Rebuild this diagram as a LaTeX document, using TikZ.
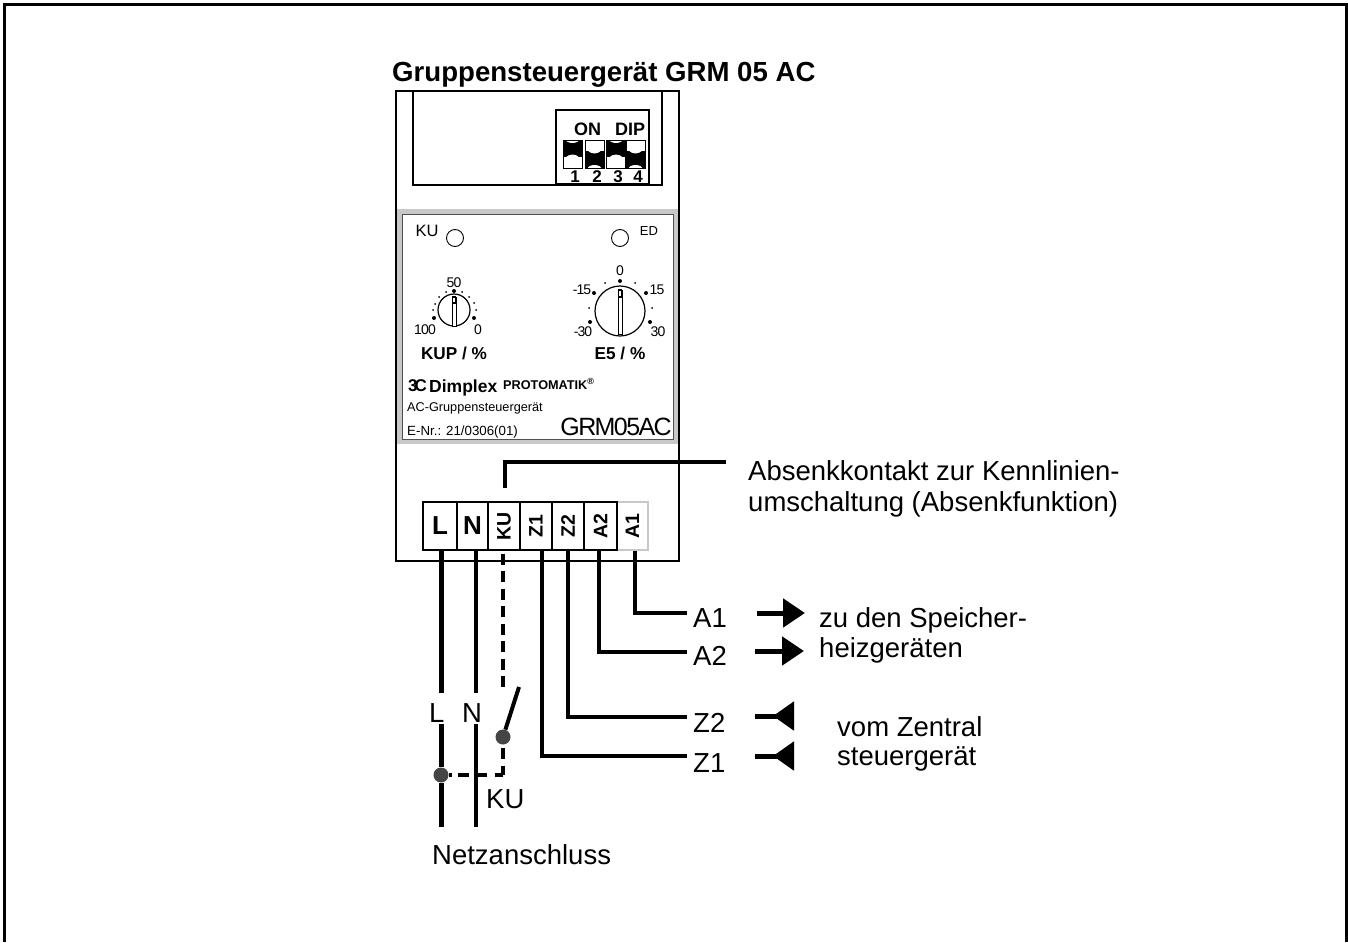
\documentclass[tikz,border=0pt]{standalone}
\usepackage{fontspec}
\setmainfont{Liberation Sans}
\newfontfamily\tightfont[LetterSpace=-6.3]{Liberation Sans}
\usetikzlibrary{arrows.meta}
\definecolor{panelgray}{HTML}{C8C8C8}
\definecolor{paneledge}{HTML}{505050}
\definecolor{dotgray}{HTML}{454545}
\newcommand{\fs}[1]{\fontsize{#1}{#1}\selectfont}
\tikzset{
    lbl/.style = {inner sep=0pt, anchor=base west, font=\fs{27.5}},
    small/.style = {inner sep=0pt, font=\tightfont\fs{14}},
    wire/.style = {line width=4pt},
    mainwire/.style = {line width=5pt},
    dashwire/.style = {line width=3.4pt},
    body/.style = {line width=2.8pt},
    terminal/.style = {draw, line width=1.2pt, fill=white, inner sep=0pt,
        minimum height=48pt, minimum width=#1, font=\bfseries\fs{19.5}},
    knobdot/.style = {circle, fill, inner sep=0pt, minimum size=#1},
    joint/.style = {circle, fill=dotgray, inner sep=0pt, minimum size=15pt},
    outarrow/.style = {line width=5pt, -{Triangle[length=22pt,width=28pt]}},
    inarrow/.style = {line width=5pt, -{Triangle[reversed,length=21pt,width=28pt]}}
}
\begin{document}
\begin{tikzpicture}[x=1pt, y=-1pt]
    \useasboundingbox (0,0) rectangle (1348,942);
    \draw[line width=3pt] (4,942) -- (4,5) -- (1346,5) -- (1346,942);

    \node[inner sep=0pt, anchor=base west, font=\bfseries\fs{27.6}] (title) at (392,81.5) {Gruppensteuerger\"at GRM 05 AC};

    % housing
    \draw[body] (396,91) rectangle (679,561);
    \draw[line width=2.2pt] (413,91) -- (413,185) -- (662,185) -- (662,91);
    \draw[line width=2.6pt] (556,185) -- (556,110) -- (649,110) -- (649,185);
    \draw[line width=3pt] (556,184) -- (649,184);

    % dip switches
    \foreach \x/\s in {572.5/1,594.5/-1,616/1,635.5/-1} {
        \begin{scope}[shift={(\x,154)}, yscale=\s]
            \fill[white] (-9.5,-14) rectangle (9.5,14);
            \fill (-10,-14) rectangle (10,3);
            \fill[white] (0,9.5) circle (9);
            \fill[white] (0,-15) ellipse (7 and 4);
            \draw[line width=.8pt] (-9.5,-14) rectangle (9.5,14);
        \end{scope}
    }
    \node[inner sep=0pt, font=\bfseries\fs{18}] (on) at (587.5,129) {ON};
    \node[inner sep=0pt, font=\bfseries\fs{18}] (dip) at (630,129) {DIP};
    \foreach \x/\t in {575/1,597/2,618/3,638/4} {
        \node[inner sep=0pt, font=\bfseries\fs{17}] at (\x,176.5) {\t};
    }

    % front panel
    \draw[fill=panelgray, draw=panelgray] (397,209) rectangle (677,443);
    \draw[fill=white, draw=paneledge, line width=1pt] (402,214) rectangle (673,439);
    \draw[body] (396,200) -- (396,450);
    \draw[body] (679,200) -- (679,450);

    \node[inner sep=0pt, font=\fs{16.5}] (ku) at (427,231) {KU};
    \node[inner sep=0pt, font=\fs{13}] (ed) at (649,231) {ED};
    \draw[line width=.9pt] (455,238) circle (8.5);
    \draw[line width=.9pt] (620,238) circle (8.5);

    % left knob
    \draw[line width=1.2pt] (454,310) circle (16);
    \draw[line width=.8pt, fill=white] (452,297) rectangle (456,326);
    \draw[line width=1.2pt] (452.2,297) rectangle (455.8,303);
    \foreach \x/\y in {454/291,434/318,474/318} {
        \node[knobdot=4pt] at (\x,\y) {};
    }
    \foreach \x/\y in {439/297,446/292,462/292,469/297,435/304,433/310,474/303,476/310} {
        \node[knobdot=2pt] at (\x,\y) {};
    }
    \node[small] at (454,283) {50};
    \node[small] at (425,330) {100};
    \node[small] at (478,330) {0};
    \node[inner sep=0pt, font=\bfseries\fs{17.2}] (kup) at (454,353) {KUP / \%};

    % right knob
    \draw[line width=1.2pt] (620,311) circle (25);
    \draw[line width=.8pt, fill=white] (618,290) rectangle (622,334);
    \draw[line width=1.2pt] (618.2,290) rectangle (621.8,297);
    \foreach \x/\y in {620/281,594/293,646/293,590/322,650/322} {
        \node[knobdot=4pt] at (\x,\y) {};
    }
    \foreach \x/\y in {605/283,635/283,589/308,652/308} {
        \node[knobdot=2pt] at (\x,\y) {};
    }
    \node[small] at (620,271) {0};
    \node[small] at (582,290) {-15};
    \node[small] at (657,290) {15};
    \node[small] at (583,332) {-30};
    \node[small] at (658,332) {30};
    \node[inner sep=0pt, font=\bfseries\fs{17.2}] (e5) at (620,353) {E5 / \%};

    % logo and type plate
    \node[inner sep=0pt, anchor=base west, font=\bfseries\fs{17}] (logo) at (408,391) {3\kern-3pt C};
    \node[inner sep=0pt, anchor=base west, font=\bfseries\fs{17.5}] (dimplex) at (429,392) {Dimplex};
    \node[inner sep=0pt, anchor=base west, font=\bfseries\fs{12.7}] (proto) at (503,389) {PROTOMATIK\textsuperscript{\textregistered}};
    \node[inner sep=0pt, anchor=base west, font=\fs{12.7}] (plate) at (407,411) {AC-Gruppensteuerger\"at};
    \node[inner sep=0pt, anchor=base west, font=\fs{13.3}] (enr) at (407,435) {E-Nr.: 21/0306(01)};
    \node[inner sep=0pt, anchor=base east, font=\tightfont\fs{25}] (grm) at (672,435) {GRM05AC};

    % terminals
    \node[terminal=31pt, draw=panelgray] (tA1) at (632.5,526) {\rotatebox{90}{A1}};
    \node[terminal=34pt] (tL) at (440,526) {\fs{26}L};
    \node[terminal=31pt] (tN) at (472.5,526) {\fs{26}N};
    \node[terminal=32pt] (tKU) at (504,526) {\rotatebox{90}{KU}};
    \node[terminal=32pt] (tZ1) at (536,526) {\rotatebox{90}{Z1}};
    \node[terminal=32pt] (tZ2) at (568,526) {\rotatebox{90}{Z2}};
    \node[terminal=33pt] (tA2) at (600.5,526) {\rotatebox{90}{A2}};

    % callout
    \node[lbl] (absenk) at (748,480) {Absenkkontakt zur Kennlinien-};
    \node[lbl] (umschalt) at (748,511) {umschaltung (Absenkfunktion)};
    \coordinate (cKU) at (505,488);
    \coordinate (cEnd) at (726,462);
    \draw[wire] (cKU) |- (cEnd);

    % mains side
    \node[lbl] (lL) at (429,722) {L};
    \node[lbl] (lN) at (462,722) {N};
    \node[lbl] (lKU) at (486,808) {KU};
    \node[lbl] (netz) at (432,864) {Netzanschluss};
    \node[joint] (dotL) at (441,775) {};
    \node[joint] (dotS) at (503,737) {};
    \coordinate (gL) at (441,693);
    \coordinate (hL) at (441,724);
    \coordinate (gN) at (476,693);
    \coordinate (hN) at (476,724);
    \coordinate (eL) at (441,827);
    \coordinate (eN) at (476,827);
    \coordinate (eArm) at (519,687);
    \coordinate (eDash) at (503,687);
    \coordinate (eCorner) at (503,775);
    \draw[mainwire] ([xshift=1]tL.south) -- (gL);
    \draw[mainwire] (hL) -- (dotL) -- (eL);
    \draw[wire] ([xshift=3.5]tN.south) -- (gN);
    \draw[wire] (hN) -- (eN);
    \draw[dashwire, dash pattern=on 11pt off 6.5pt, dash phase=14.5pt] ([xshift=-1]tKU.south) -- (eDash);
    \draw[dashwire, dash pattern=on 0pt off 3pt on 11pt off 7pt on 11pt] (dotS) -- (eCorner);
    \draw[dashwire, dash pattern=on 8pt off 8pt on 11pt off 7pt on 11pt off 6pt on 4pt] (eCorner) -- (dotL);
    \draw[wire] (dotS) -- (eArm);

    % control side
    \coordinate (eA1) at (687,613);
    \coordinate (eA2) at (687,652);
    \coordinate (eZ2) at (687,717);
    \coordinate (eZ1) at (687,756);
    \draw[wire] ([xshift=2.5]tA1.south) |- (eA1);
    \draw[wire] ([xshift=-1.5]tA2.south) |- (eA2);
    \draw[wire] (tZ2.south) |- (eZ2);
    \draw[wire] ([xshift=6]tZ1.south) |- (eZ1);
    \node[lbl] (lA1) at (693,627) {A1};
    \node[lbl] (lA2) at (693,665) {A2};
    \node[lbl] (lZ2) at (693,732) {Z2};
    \node[lbl] (lZ1) at (693,772) {Z1};

    % signal direction
    \coordinate (a1s) at (757,613);
    \coordinate (a1e) at (805,613);
    \coordinate (a2s) at (755,651);
    \coordinate (a2e) at (804,651);
    \coordinate (z2s) at (755,716);
    \coordinate (z2e) at (794,716);
    \coordinate (z1s) at (755,756);
    \coordinate (z1e) at (794,756);
    \draw[outarrow] (a1s) -- (a1e);
    \draw[outarrow] (a2s) -- (a2e);
    \draw[inarrow] (z2s) -- (z2e);
    \draw[inarrow] (z1s) -- (z1e);
    \node[lbl] (zuden) at (819,627) {zu den Speicher-};
    \node[lbl] (heiz) at (819,657) {heizger\"aten};
    \node[lbl] (vom) at (837,736) {vom Zentral};
    \node[lbl] (steuer) at (837,765) {steuerger\"at};
\end{tikzpicture}
\end{document}
